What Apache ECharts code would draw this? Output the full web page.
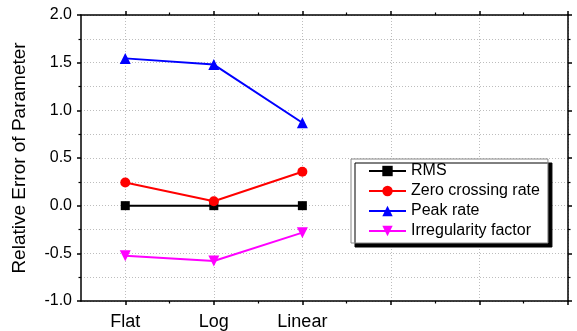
<!DOCTYPE html>
<html><head><meta charset="utf-8">
<script src="https://cdn.jsdelivr.net/npm/echarts@6/dist/echarts.min.js"></script>
<style>html,body{margin:0;padding:0;background:#fff}#c{width:577px;height:331px}</style>
</head><body><div id="c"></div>
<script>
const categories = ['Flat', 'Log', 'Linear'];
const rms = [0.0, 0.0, 0.0];
const zeroCrossing = [0.243, 0.047, 0.355];
const peakRate = [1.545, 1.48, 0.87];
const irregularity = [-0.525, -0.58, -0.283];
const seriesNames = ['RMS', 'Zero crossing rate', 'Peak rate', 'Irregularity factor'];
const xMajorTicks = [1, 2, 3, 4, 5, 6];
const xMinorTicks = [1.5, 2.5, 3.5, 4.5, 5.5];

const FONT = '"Liberation Sans", Arial, sans-serif';
const toXY = arr => arr.map((v, i) => [i + 1, v]);
const dotted = { show: true, lineStyle: { color: '#bdbdbd', type: [1, 2], width: 1 } };
const axisLine = { show: true, onZero: false, lineStyle: { color: '#000', width: 1.5 } };
const noLine = { show: false, onZero: false };

const chart = echarts.init(document.getElementById('c'), null, { renderer: 'canvas' });
const xBase = { type: 'value', min: 0.5, max: 6, interval: 0.5 };
const yBase = { type: 'value', min: -1, max: 2, interval: 0.5 };

function mkSeries(name, data, color, symbol, size, rotate) {
  return {
    name, type: 'line', data: toXY(data), symbol, symbolSize: size, symbolRotate: rotate || 0,
    lineStyle: { color, width: 2 }, itemStyle: { color }, z: 5, animation: false
  };
}

chart.setOption({
  animation: false,
  backgroundColor: '#fff',
  grid: { left: 81, top: 15, right: 9, bottom: 30, containLabel: false },
  xAxis: [
    Object.assign({}, xBase, {
      position: 'bottom', axisLine,
      axisTick: { show: true, inside: false, length: 4, customValues: xMajorTicks, lineStyle: { color: '#000', width: 1.5 } },
      axisLabel: {
        show: true, customValues: [1, 2, 3], margin: 12,
        formatter: v => categories[Math.round(v) - 1] || '',
        color: '#000', fontFamily: FONT, fontSize: 18
      },
      splitLine: dotted
    }),
    Object.assign({}, xBase, {
      position: 'bottom', axisLine: noLine,
      axisTick: { show: true, inside: false, length: 2.5, customValues: xMinorTicks, lineStyle: { color: '#000', width: 1.2 } },
      axisLabel: { show: false }, splitLine: { show: false }
    }),
    Object.assign({}, xBase, {
      position: 'top', axisLine,
      axisTick: { show: true, inside: false, length: 4, customValues: xMajorTicks, lineStyle: { color: '#000', width: 1.5 } },
      axisLabel: { show: false }, splitLine: { show: false }
    }),
    Object.assign({}, xBase, {
      position: 'top', axisLine: noLine,
      axisTick: { show: true, inside: false, length: 2.5, customValues: xMinorTicks, lineStyle: { color: '#000', width: 1.2 } },
      axisLabel: { show: false }, splitLine: { show: false }
    })
  ],
  yAxis: [
    Object.assign({}, yBase, {
      position: 'left', axisLine,
      name: 'Relative Error of Parameter', nameLocation: 'middle', nameGap: 52,
      nameTextStyle: { color: '#000', fontFamily: FONT, fontSize: 19 },
      axisTick: { show: true, inside: false, length: 4, lineStyle: { color: '#000', width: 1.5 } },
      minorTick: { show: true, splitNumber: 2, length: 2.5, lineStyle: { color: '#000', width: 1.2 } },
      axisLabel: { color: '#000', fontFamily: FONT, fontSize: 16, margin: 9, formatter: v => v.toFixed(1) },
      splitLine: dotted,
      minorSplitLine: dotted
    }),
    Object.assign({}, yBase, {
      position: 'right', axisLine,
      axisTick: { show: true, inside: false, length: 4, lineStyle: { color: '#000', width: 1.5 } },
      minorTick: { show: true, splitNumber: 2, length: 2.5, lineStyle: { color: '#000', width: 1.2 } },
      axisLabel: { show: false }, splitLine: { show: false }
    })
  ],
  legend: {
    orient: 'vertical', left: 351, top: 159,
    padding: [4, 8, 4, 17], itemGap: 4, itemWidth: 37, itemHeight: 13,
    backgroundColor: '#fff', borderColor: '#888', borderWidth: 1, borderRadius: 0,
    shadowColor: '#000', shadowBlur: 0, shadowOffsetX: 4, shadowOffsetY: 4,
    textStyle: { color: '#000', fontFamily: FONT, fontSize: 16 },
    data: seriesNames
  },
  series: [
    mkSeries(seriesNames[0], rms, '#000000', 'rect', 9),
    mkSeries(seriesNames[1], zeroCrossing, '#ff0000', 'circle', 10),
    mkSeries(seriesNames[2], peakRate, '#0000ff', 'triangle', 11),
    mkSeries(seriesNames[3], irregularity, '#ff00ff', 'triangle', 11, 180)
  ]
});
</script></body></html>
